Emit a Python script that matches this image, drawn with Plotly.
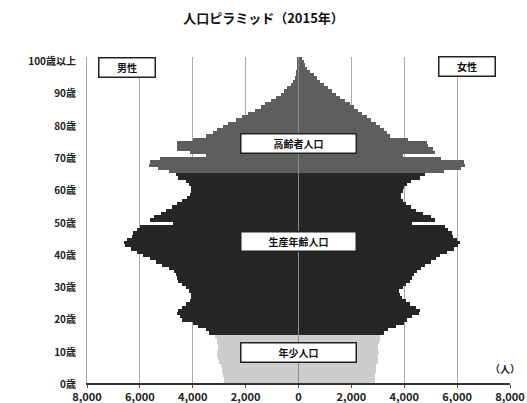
import plotly.graph_objects as go

ages = list(range(0, 101))

male = [2800, 2800, 2850, 2900, 2900, 2950, 3000, 3050, 3100, 3100,
        3050, 3050, 3100, 3100, 3150, 3400, 3500, 3800, 4000, 4400,
        4500, 4600, 4550, 4400, 4250, 4100, 4050, 4050, 4150, 4250,
        4400, 4550, 4600, 4650, 4700, 4900, 5150, 5400, 5600, 5900,
        6100, 6350, 6550, 6600, 6500, 6300, 6250, 6100, 6000, 4750,
        5600, 5450, 5200, 5000, 4800, 4600, 4400, 4200, 4100, 4050,
        4050, 4150, 4250, 4550, 4650, 4900, 5300, 5650, 5600, 5250,
        3500, 4100, 4600, 4600, 4600, 4000, 3500, 3250, 3100, 2850,
        2650, 2350, 2150, 1900, 1650, 1400, 1250, 1050, 850, 680,
        550, 420, 300, 220, 150, 100, 80, 50, 35, 25,
        50]

female = [2900, 2900, 2900, 2950, 2950, 2950, 3000, 3000, 3000, 3050,
          3000, 3000, 3050, 3100, 3100, 3250, 3400, 3700, 4000, 4100,
          4300, 4550, 4600, 4450, 4200, 4050, 3900, 3850, 3820, 3950,
          4080, 4200, 4300, 4350, 4500, 4650, 4800, 5000, 5200, 5350,
          5600, 5900, 6050, 6100, 6000, 5850, 5800, 5650, 5550, 4300,
          5150, 5000, 4700, 4450, 4250, 4050, 3950, 3870, 3870, 3950,
          4000, 4100, 4250, 4600, 4800, 5500, 6150, 6300, 6250, 5400,
          3950, 5150, 5100, 4900, 4850, 4150, 3450, 3350, 3250, 3100,
          2950, 2750, 2600, 2400, 2250, 2100, 1950, 1750, 1560, 1400,
          1250, 1100, 950, 820, 700, 590, 450, 340, 260, 200,
          150]

group_colors = {"young": "#cdcdcd", "working": "#262626", "elderly": "#5e5e5e"}

def color_for(a):
    if a < 15:
        return group_colors["young"]
    if a < 65:
        return group_colors["working"]
    return group_colors["elderly"]

colors = [color_for(a) for a in ages]

x_ticks = [-8000, -6000, -4000, -2000, 0, 2000, 4000, 6000, 8000]
x_ticktext = ["8,000", "6,000", "4,000", "2,000", "0", "2,000", "4,000", "6,000", "8,000"]
y_ticks = [0, 10, 20, 30, 40, 50, 60, 70, 80, 90, 100]
y_ticktext = ["0歳", "10歳", "20歳", "30歳", "40歳", "50歳", "60歳", "70歳", "80歳", "90歳", "100歳以上"]

FONT = "Noto Sans CJK JP"

fig = go.Figure()
fig.add_trace(go.Bar(y=ages, x=[-v for v in male], orientation="h",
                     marker=dict(color=colors, line=dict(width=0)), width=1.0,
                     name="男性", showlegend=False, hoverinfo="skip"))
fig.add_trace(go.Bar(y=ages, x=female, orientation="h",
                     marker=dict(color=colors, line=dict(width=0)), width=1.0,
                     name="女性", showlegend=False, hoverinfo="skip"))

fig.add_shape(type="line", x0=0, x1=0, y0=-0.5, y1=100.5, xref="x", yref="y",
              line=dict(color="#8a8a8a", width=1), layer="above")

box_font = dict(family=FONT, size=10, color="#111111", weight="bold")
for txt, yy in [("高齢者人口", 73.8), ("生産年齢人口", 43.2), ("年少人口", 9.1)]:
    fig.add_annotation(x=0, y=yy, xref="x", yref="y", text=txt, showarrow=False,
                       font=box_font, bgcolor="white", bordercolor="#222222",
                       borderwidth=1.5, borderpad=1, width=112, height=16)

for txt, xx, yy in [("男性", -6470, 97.4), ("女性", 6390, 97.7)]:
    fig.add_annotation(x=xx, y=yy, xref="x", yref="y", text=txt, showarrow=False,
                       font=box_font, bgcolor="white", bordercolor="#222222",
                       borderwidth=1.5, borderpad=1, width=53, height=16)

fig.add_annotation(x=7800, y=3.9, xref="x", yref="y", text="（人）", showarrow=False,
                   font=dict(family=FONT, size=10, color="#222222", weight="bold"))

fig.update_layout(
    width=527, height=403,
    margin=dict(l=87, r=17, t=57, b=20),
    paper_bgcolor="white", plot_bgcolor="white",
    barmode="overlay", bargap=0,
    title=dict(text="人口ピラミッド（2015年）", x=0.5, xref="container", xanchor="center",
               y=1 - 18 / 403, yref="container", yanchor="middle",
               font=dict(family=FONT, size=13, color="#111111", weight="bold")),
    xaxis=dict(range=[-8000, 8000], tickvals=x_ticks, ticktext=x_ticktext,
               showgrid=True, gridcolor="#a8a8a8", gridwidth=1, zeroline=False,
               showline=True, linecolor="#333333", linewidth=2,
               ticks="outside", ticklen=3, tickcolor="#555555",
               tickfont=dict(family=FONT, size=11, color="#222222", weight="bold"),
               automargin=False, fixedrange=True),
    yaxis=dict(range=[-0.5, 100.5], tickvals=y_ticks, ticktext=y_ticktext,
               showgrid=False, zeroline=False, showline=True, linecolor="#a8a8a8",
               linewidth=1, ticks="", ticklabelstandoff=8, ticklabelshift=3,
               tickfont=dict(family=FONT, size=10, color="#222222", weight="bold"),
               automargin=False, fixedrange=True),
)

fig.write_html("out.html")
